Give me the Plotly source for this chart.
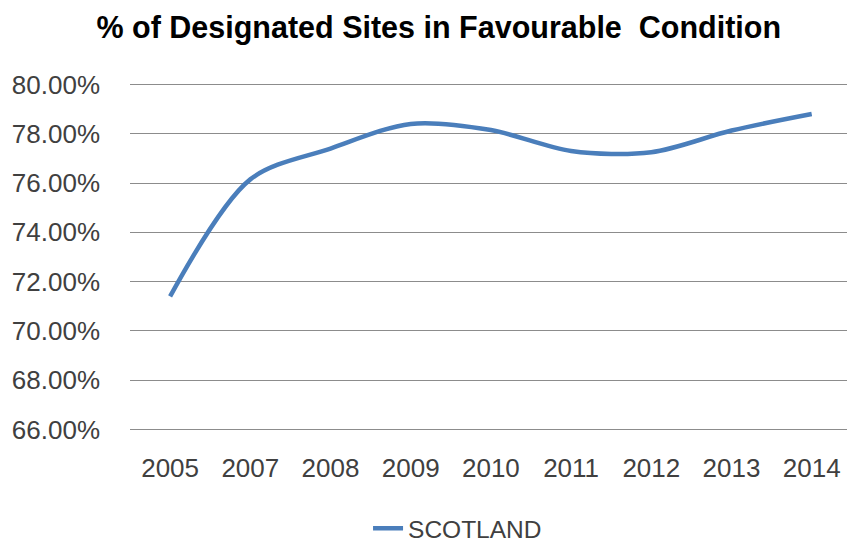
import plotly.graph_objects as go

# Share of designated sites in favourable condition, Scotland
years = ["2005", "2007", "2008", "2009", "2010", "2011", "2012", "2013", "2014"]
scotland_pct = [71.4, 76.15, 77.4, 78.4, 78.15, 77.3, 77.25, 78.13, 78.8]
y_ticks = [66, 68, 70, 72, 74, 76, 78, 80]

FONT = "Liberation Sans, Arial, sans-serif"
TEXT_GREY = "#404040"

fig = go.Figure()
fig.add_trace(go.Scatter(
    x=years,
    y=scotland_pct,
    mode="lines",
    name="SCOTLAND",
    line=dict(color="#4A7EBB", width=4.5, shape="spline", smoothing=0.9),
    hoverinfo="skip",
))

fig.update_layout(
    width=847,
    height=542,
    paper_bgcolor="white",
    plot_bgcolor="white",
    margin=dict(l=130, r=0, t=82, b=110, autoexpand=False),
    title=dict(
        text="<b>% of Designated Sites in Favourable  Condition</b>",
        x=0.518, xanchor="center",
        y=0.95, yanchor="middle",
        font=dict(family=FONT, size=30.5, color="black"),
    ),
    showlegend=True,
    legend=dict(
        orientation="h",
        x=0.332, xanchor="left",
        y=-0.275, yanchor="middle",
        font=dict(family=FONT, size=24.5, color=TEXT_GREY),
        bgcolor="rgba(0,0,0,0)",
    ),
    xaxis=dict(
        type="category",
        range=[-0.5, 8.44],
        showgrid=False,
        zeroline=False,
        showline=False,
        ticks="",
        tickfont=dict(family=FONT, size=26, color=TEXT_GREY),
        ticklabelstandoff=18,
    ),
    yaxis=dict(
        range=[65.9, 80.1],
        tickvals=y_ticks,
        ticktext=[f"{v:.2f}%" for v in y_ticks],
        showgrid=True,
        gridcolor="#8C8C8C",
        gridwidth=1.4,
        zeroline=False,
        showline=False,
        ticks="",
        tickfont=dict(family=FONT, size=26, color=TEXT_GREY),
        ticklabelstandoff=29,
    ),
)

fig.write_html("out.html")
